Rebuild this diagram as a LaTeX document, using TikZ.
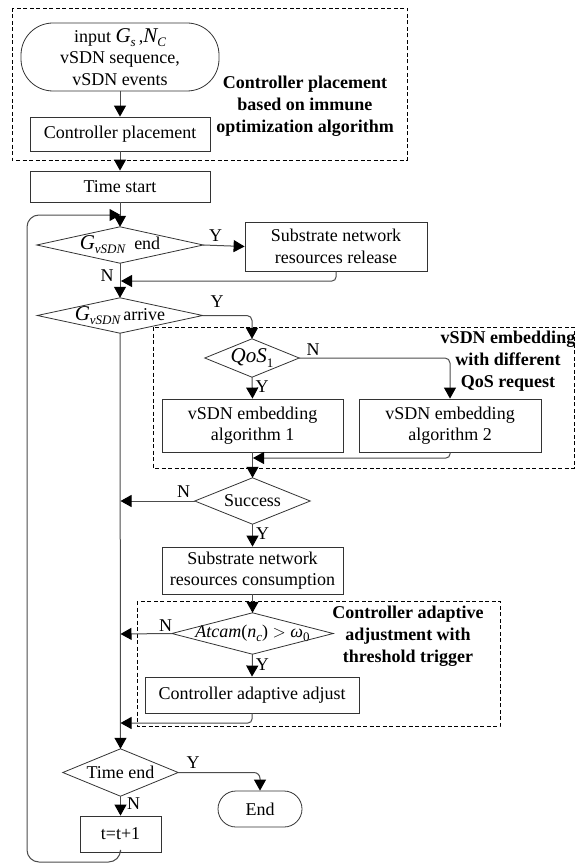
\documentclass[tikz,border=0pt]{standalone}
\usepackage{fontspec}
\setmainfont{Liberation Serif}
\usetikzlibrary{arrows.meta}
\newcommand{\mysb}[1]{\raisebox{-0.5ex}{\fontsize{13}{13}\selectfont\itshape #1}}
\newcommand{\myvar}[1]{{\fontsize{21}{21}\selectfont\itshape #1}}
\tikzset{
  txt/.style={font=\fontsize{18}{21.5}\selectfont, inner sep=0pt, align=center},
  boxn/.style={txt, draw=black!80, line width=0.8pt, rectangle},
  termn/.style={txt, draw=black!80, line width=0.8pt, rectangle},
  dnode/.style={txt, rectangle},
  dshape/.style={draw=black!80, line width=0.8pt},
  conn/.style={draw=black!70, line width=1pt},
  arr/.style={conn, -{Triangle[length=11pt,width=12pt,color=black]}},
  grp/.style={draw=black, line width=0.8pt, dash pattern=on 4pt off 2.5pt},
  lbl/.style={font=\fontsize{18}{22}\selectfont\bfseries, inner sep=0pt, align=center},
  yn/.style={font=\fontsize{18}{18}\selectfont, inner sep=0pt}
}
\begin{document}
\begin{tikzpicture}[x=1pt,y=-1pt]
\useasboundingbox (0,0) rectangle (576,864);
% group boxes
\draw[grp] (12,8) rectangle (407,160);
\draw[grp] (153,327) rectangle (574,468);
\draw[grp] (137,601) rectangle (500,726);
\node[lbl] (lab1) at (305,106) {Controller placement\\based on immune\\optimization algorithm};
\node[lbl] (lab2) at (508,361) {vSDN embedding\\with different\\QoS request};
\node[lbl] (lab3) at (408,636) {Controller adaptive\\adjustment with\\threshold trigger};
% nodes
\node[termn, rounded corners=32pt, minimum width=198pt, minimum height=68pt] (in) at (120,57)
  {input \myvar{G}\mysb{s}\,,\myvar{N}\mysb{C}\\vSDN sequence,\\vSDN events};
\node[boxn, minimum width=180pt, minimum height=34pt] (cp) at (120,134) {Controller placement};
\node[boxn, minimum width=180pt, minimum height=31pt] (ts) at (120,186.5) {Time start};
\node[dnode, minimum width=166pt, minimum height=36pt] (d1) at (120,245) {\myvar{G}\mysb{vSDN}\ \ end};
\node[boxn, minimum width=182pt, minimum height=49pt] (rel) at (336,246.5) {Substrate network\\resources release};
\node[dnode, minimum width=165pt, minimum height=35pt] (d2) at (120,315.5) {\myvar{G}\mysb{vSDN}\,arrive};
\node[dnode, minimum width=94pt, minimum height=38pt] (q) at (252,358) {\myvar{QoS}\mysb{\upshape 1}};
\node[boxn, minimum width=181pt, minimum height=53pt] (a1) at (252.5,425.5) {vSDN embedding\\algorithm 1};
\node[boxn, minimum width=182pt, minimum height=53pt] (a2) at (450,425.5) {vSDN embedding\\algorithm 2};
\node[dnode, minimum width=115pt, minimum height=46pt] (s) at (252.5,501) {Success};
\node[boxn, minimum width=181pt, minimum height=47pt] (con) at (252.5,570.5) {Substrate network\\resources consumption};
\node[dnode, minimum width=161pt, minimum height=41pt] (at) at (252.5,633.5) {\textit{Atcam}(\textit{n}\mysb{c}) $>$ \textit{ω}\mysb{\upshape 0}};
\node[boxn, minimum width=214pt, minimum height=36pt] (ca) at (252,695) {Controller adaptive adjust};
\node[dnode, minimum width=115pt, minimum height=47pt] (te) at (120.5,772.5) {Time end};
\node[termn, rounded corners=18pt, minimum width=84pt, minimum height=36pt] (end) at (260,809) {End};
\node[boxn, minimum width=81pt, minimum height=36pt] (t1) at (120.5,834) {t=t+1};
% diamond outlines
\foreach \d in {d1,d2,q,s,at,te}
  \draw[dshape] (\d.north) -- (\d.east) -- (\d.south) -- (\d.west) -- cycle;
% junction coordinates
\coordinate (jtop) at (120.5,215);
\coordinate (j1) at (121,281);
\coordinate (j2) at (253,458);
\coordinate (j3) at (120.5,501);
\coordinate (j4) at (120.5,634);
\coordinate (j5) at (120.5,723);
% connectors
\draw[arr] (in.south) -- (cp.north);
\draw[arr] (cp.south) -- (ts.north);
\draw[arr] (ts.south) -- (d1.north);
\draw[arr, rounded corners=12pt] (t1.south) -- (120.5,862) -- (27,862) -- (27,215) -- (jtop);
\draw[arr] (d1.east) -- node[yn, above=3pt, pos=0.3] {Y} (rel.west);
\draw[arr, rounded corners=4pt] (rel.south) |- (j1);
\draw[arr] (d1.south) -- node[yn, left=6pt, pos=0.35] {N} (d2.north);
\draw[arr, rounded corners=5pt] (d2.east) -| (q.north);
\node[yn] (ylab2) at (217,302) {Y};
\draw[arr] (q.south) -- node[yn, right=3pt, pos=0.45] {Y} (a1.north);
\draw[arr, rounded corners=5pt] (q.east) -| (a2.north);
\node[yn] (nlab2) at (313,350) {N};
\draw[arr, rounded corners=4pt] (a2.south) |- (j2);
\draw[arr] (a1.south) -- (s.north);
\draw[arr] (s.west) -- node[yn, above=3pt, pos=0.15] {N} (j3);
\draw[arr] (s.south) -- node[yn, right=3pt, pos=0.4] {Y} (con.north);
\draw[arr] (con.south) -- (at.north);
\draw[arr] (at.west) -- node[yn, above=2pt, pos=0.12] {N} (j4);
\draw[arr] (at.south) -- node[yn, right=3pt, pos=0.45] {Y} (ca.north);
\draw[arr, rounded corners=4pt] (ca.south) |- (j5);
\draw[arr] (d2.south) -- (te.north);
\draw[arr, rounded corners=6pt] (te.east) -| (end.north);
\node[yn] (ylab3) at (193,763) {Y};
\draw[arr] (te.south) -- node[yn, right=6pt, pos=0.4] {N} (t1.north);
\end{tikzpicture}
\end{document}
